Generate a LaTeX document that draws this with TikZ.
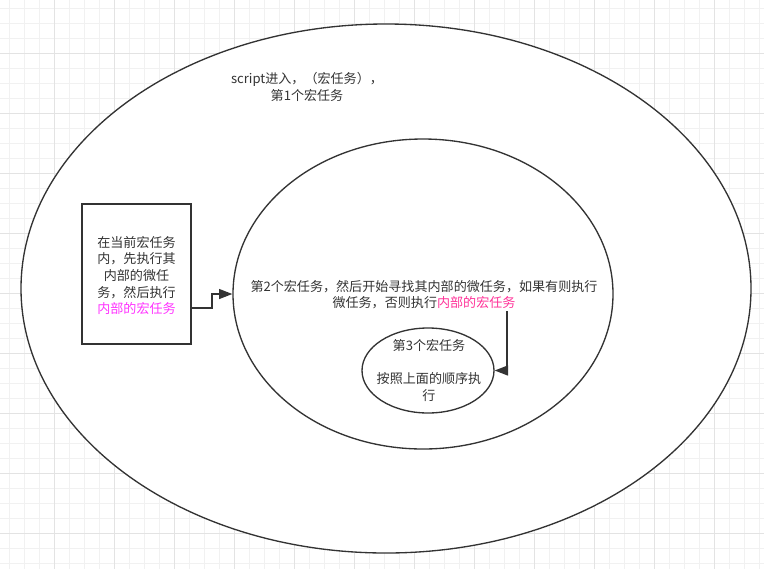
\documentclass[tikz,border=0pt]{standalone}
\usepackage{fontspec}
\setmainfont{Noto Sans CJK SC}
\usetikzlibrary{arrows.meta,shapes.geometric}
\definecolor{txt}{HTML}{333333}
\definecolor{ln}{HTML}{333333}
\definecolor{gminor}{HTML}{F1F1F1}
\definecolor{gmajor}{HTML}{E3E3E3}
\definecolor{pinkA}{HTML}{FF33FF}
\definecolor{pinkB}{HTML}{FF3399}
\begin{document}
\begin{tikzpicture}[x=0.75pt,y=-0.75pt,
  shapeline/.style={draw=ln,line width=1pt},
  ell/.style={shapeline,ellipse,inner sep=0pt,fill=white},
  lbl/.style={text=txt,font=\fontsize{9.8pt}{12.5pt}\selectfont,align=center,inner sep=0pt},
  arr/.style={draw=ln,line width=1pt,-{Triangle[length=10pt,width=7.5pt]}},
  gline/.style={line width=0.75pt}]
\useasboundingbox (0,0) rectangle (764,569);
\fill[white] (0,0) rectangle (764,569);
\foreach \v in {9,24,...,759} {\draw[gline,gminor] (\v,0) -- (\v,569);}
\foreach \v in {8,23,...,568} {\draw[gline,gminor] (0,\v) -- (764,\v);}
\foreach \v in {54,114,...,714} {\draw[gline,gmajor] (\v,0) -- (\v,569);}
\foreach \v in {53,113,...,533} {\draw[gline,gmajor] (0,\v) -- (764,\v);}

\node[ell,minimum width=547.5pt,minimum height=396.75pt] (outer) at (386,288.5) {};
\node[lbl] (t1) at (307,87) {script进入，（宏任务），\\第1个宏任务};
\node[ell,minimum width=285pt,minimum height=232.5pt] (mid) at (423,294) {};
\node[lbl] (t2) at (424,294.5) {第2个宏任务，然后开始寻找其内部的微任务，如果有则执行\\微任务，否则执行\textcolor{pinkB}{内部的宏任务}};
\node[ell,minimum width=99pt,minimum height=63.75pt] (inner) at (428,370.5) {};
\node[lbl] (t3) at (429,370.5) {第3个宏任务\\[12.5pt]按照上面的顺序执\\行};
\node[shapeline,fill=white,minimum width=81.75pt,minimum height=105pt,inner sep=0pt] (box) at (136.5,274) {};
\node[lbl] (t4) at (136.5,275.5) {在当前宏任务\\内，先执行其\\内部的微任\\务，然后执行\\\textcolor{pinkA}{内部的宏任务}};

\coordinate (a1) at (212,308);
\draw[arr] (box.east |- a1) -- (a1) |- (mid.west);
\coordinate (a2) at (507,311);
\draw[arr] (a2) |- (inner.east);
\end{tikzpicture}
\end{document}
